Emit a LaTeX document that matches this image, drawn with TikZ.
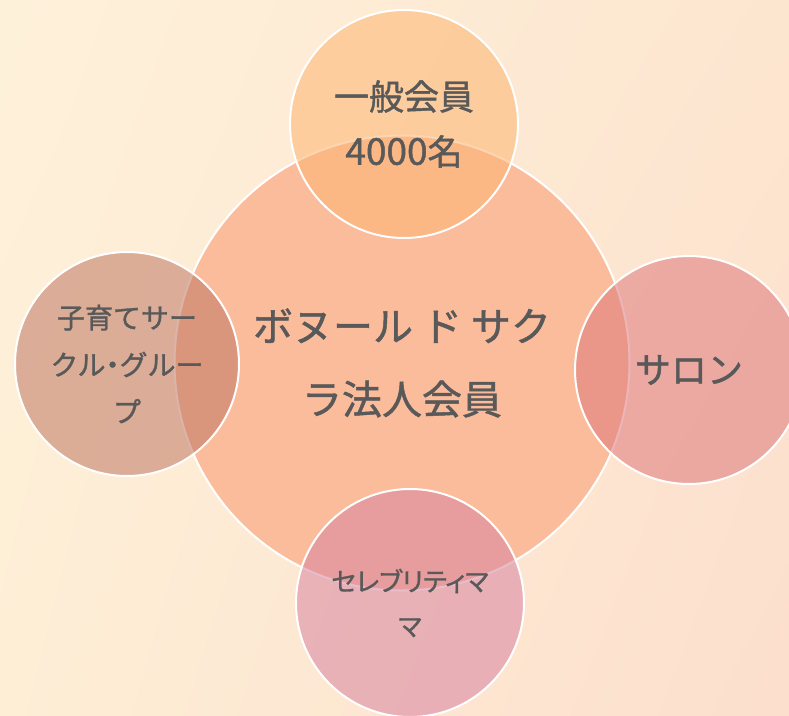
\documentclass[tikz,border=0pt]{standalone}
\usepackage{fontspec}
\usetikzlibrary{shadings}
\newfontfamily\jp[RawFeature={embolden=1.2}]{Noto Sans CJK JP}
\newfontfamily\jpp[RawFeature={embolden=1.2;+palt}]{Noto Sans CJK JP}
\definecolor{bgUL}{HTML}{FEF1DA}
\definecolor{bgUR}{HTML}{FDE6D0}
\definecolor{bgLL}{HTML}{FEEED6}
\definecolor{bgLR}{HTML}{FCDFCD}
\definecolor{mainfill}{HTML}{FBBC9C}
\definecolor{topfill}{HTML}{FDB571}
\definecolor{leftfill}{HTML}{BF7864}
\definecolor{rightfill}{HTML}{DD797C}
\definecolor{botfill}{HTML}{D785A0}
\definecolor{txt}{HTML}{595959}
\tikzset{
  bubble/.style={circle, draw=white, line width=2pt, fill opacity=0.55, text opacity=1, text=txt, align=center, inner sep=0pt},
  mainbubble/.style={circle, draw=white, line width=2pt, fill=mainfill, text=txt, align=center, inner sep=0pt},
}
\begin{document}
\begin{tikzpicture}[x=1pt,y=-1pt]
\useasboundingbox (0,0) rectangle (789,715);
\clip (0,0) rectangle (789,715);
\shade[upper left=bgUL, upper right=bgUR, lower left=bgLL, lower right=bgLR] (0,0) rectangle (789,715);
\node[mainbubble, minimum size=455pt, font=\jp\fontsize{40}{73}\selectfont] (center) at (402,363) {ボヌール ド サク\\ラ法人会員};
\node[bubble, fill=topfill, minimum size=228pt, font=\jp\fontsize{35}{55}\selectfont] (top) at (404,124) {一般会員\\{\fontsize{37}{55}\selectfont 4000}名};
\node[bubble, fill=leftfill, minimum size=224pt, font=\jp\fontsize{28}{47}\selectfont] (left) at (127,364) {子育てサー\\クル\kern-0.25em・\kern-0.25emグルー\\プ};
\node[bubble, fill=rightfill, minimum size=228pt, font=\jp\fontsize{36}{50}\selectfont] (right) at (689,370) {サロン};
\node[bubble, fill=botfill, minimum size=228pt, font=\jpp\fontsize{26}{45}\selectfont] (bottom) at (410,603) {\raisebox{-3pt}{セレブリティマ}\\\raisebox{-3pt}{マ}};
\end{tikzpicture}
\end{document}
